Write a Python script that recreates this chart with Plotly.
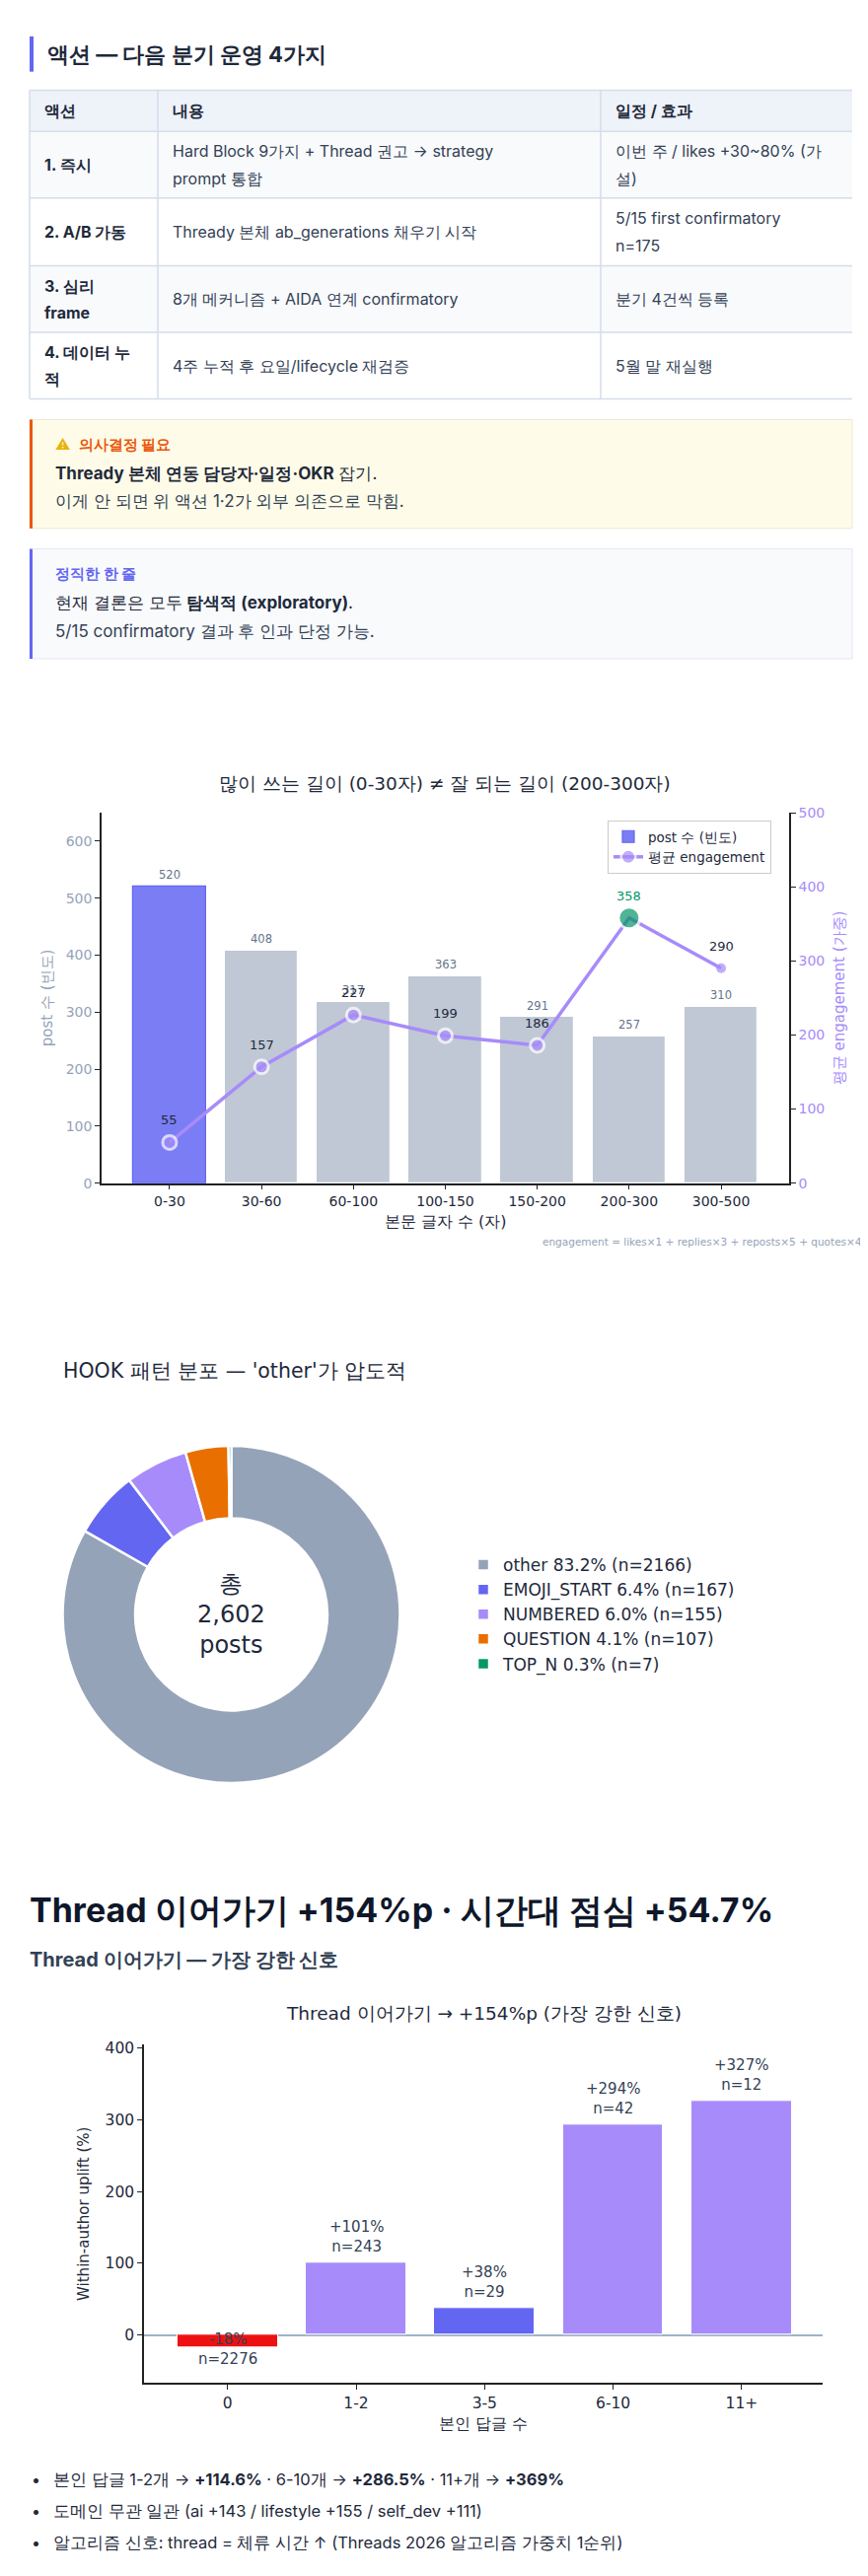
import plotly.graph_objects as go

W, H = 880, 2612
PAGE_FONT = "Inter"
CHART_FONT = "DejaVu Sans"

# ---------------- data ----------------
table_header = ["액션", "내용", "일정 / 효과"]
table_action = ["1. 즉시", "2. A/B 가동", "3. 심리<br>frame", "4. 데이터 누<br>적"]
table_content = [
    "Hard Block 9가지 + Thread 권고 → strategy<br>prompt 통합",
    "Thready 본체 ab_generations 채우기 시작",
    "8개 메커니즘 + AIDA 연계 confirmatory",
    "4주 누적 후 요일/lifecycle 재검증",
]
table_schedule = [
    "이번 주 / likes +30~80% (가<br>설)",
    "5/15 first confirmatory<br>n=175",
    "분기 4건씩 등록",
    "5월 말 재실행",
]

len_bins = ["0-30", "30-60", "60-100", "100-150", "150-200", "200-300", "300-500"]
post_counts = [520, 408, 317, 363, 291, 257, 310]
avg_engagement = [55, 157, 227, 199, 186, 358, 290]

hook_labels = ["other", "EMOJI_START", "NUMBERED", "QUESTION", "TOP_N"]
hook_counts = [2166, 167, 155, 107, 7]

reply_bins = ["0", "1-2", "3-5", "6-10", "11+"]
uplift_pct = [-18, 101, 38, 294, 327]
uplift_n = [2276, 243, 29, 42, 12]

bullets = [
    "본인 답글 1-2개 → <b>+114.6%</b> · 6-10개 → <b>+286.5%</b> · 11+개 → <b>+369%</b>",
    "도메인 무관 일관 (ai +143 / lifestyle +155 / self_dev +111)",
    "알고리즘 신호: thread = 체류 시간 ↑ (Threads 2026 알고리즘 가중치 1순위)",
]

# ---------------- styles ----------------
INDIGO = "#6366f1"
VIOLET = "#a78bfa"
SLATE = "#94a3b8"
GREEN = "#059669"
DARK = "#1e293b"
hook_colors = ["#94a3b8", "#6366f1", "#a78bfa", "#e86f00", "#059669"]
uplift_colors = ["#ee1111", VIOLET, INDIGO, VIOLET, VIOLET]


def X(px):
    return px / W


def Y(py):
    return 1 - py / H


ann = []
shapes = []


def text(x, y, s, size, color, anchor="left", family=PAGE_FONT):
    ann.append(dict(x=X(x), y=Y(y), xref="paper", yref="paper", text=s,
                    showarrow=False, xanchor=anchor, yanchor="middle", align=anchor,
                    font=dict(size=size, color=color, family=family)))


def rect(x0, y0, x1, y1, fill, line=None, lw=0):
    shapes.append(dict(type="rect", xref="paper", yref="paper",
                       x0=X(x0), x1=X(x1), y0=Y(y0), y1=Y(y1),
                       fillcolor=fill, line=dict(color=line or fill, width=lw),
                       layer="below"))


def hline(x0, x1, y, color, w):
    shapes.append(dict(type="line", xref="paper", yref="paper",
                       x0=X(x0), x1=X(x1), y0=Y(y), y1=Y(y),
                       line=dict(color=color, width=w), layer="below"))


def vline(x, y0, y1, color, w):
    shapes.append(dict(type="line", xref="paper", yref="paper",
                       x0=X(x), x1=X(x), y0=Y(y0), y1=Y(y1),
                       line=dict(color=color, width=w), layer="below"))


# ---------------- section title ----------------
rect(22, 21, 26, 57, INDIGO)
text(38, 39, "<b>액션 — 다음 분기 운영 4가지</b>", 22, DARK)

# ---------------- table ----------------
col_x = [22, 152, 601, 856]
row_y = [76, 118, 186, 255, 323, 391]
row_fill = ["#eef2f9", "#f8fafc", "#ffffff", "#f8fafc", "#ffffff"]
for i in range(len(row_y) - 1):
    rect(col_x[0], row_y[i], col_x[-1], row_y[i + 1], row_fill[i])
for yy in row_y:
    hline(col_x[0], col_x[-1], yy, "#d5ddea", 1.5)
for xx in col_x[:-1]:
    vline(xx, row_y[0], row_y[-1], "#d5ddea", 1.5)


def cell(col, row, s, bold, color):
    lines = s.split("<br>")
    cy = (row_y[row] + row_y[row + 1]) / 2
    n = len(lines)
    for k, ln in enumerate(lines):
        yy = cy + 27.5 * (k - (n - 1) / 2)
        text(col_x[col] + 13, yy, f"<b>{ln}</b>" if bold else ln, 16, color)


for j, h in enumerate(table_header):
    cell(j, 0, h, True, DARK)
for i in range(len(table_action)):
    cell(0, i + 1, table_action[i], True, DARK)
    cell(1, i + 1, table_content[i], False, "#334155")
    cell(2, i + 1, table_schedule[i], False, "#334155")

# ---------------- callouts ----------------
rect(22, 412, 856, 523, "#fefce8", "#ece9d6", 1)
rect(22, 412, 25, 523, "#ea580c")
text(46, 437, "<span style='color:#eab308'>⚠</span>  <b>의사결정 필요</b>", 15, "#ea580c")
text(46, 467, "<b>Thready 본체 연동 담당자·일정·OKR</b> 잡기.", 17, DARK)
text(46, 495, "이게 안 되면 위 액션 1·2가 외부 의존으로 막힘.", 17, "#334155")

rect(22, 544, 856, 656, "#f8fafc", "#e2e8f0", 1)
rect(22, 544, 25, 656, INDIGO)
text(46, 569, "<b>정직한 한 줄</b>", 15, INDIGO)
text(46, 599, "현재 결론은 모두 <b>탐색적 (exploratory)</b>.", 17, DARK)
text(46, 628, "5/15 confirmatory 결과 후 인과 단정 가능.", 17, "#334155")

# ---------------- chart 1 ----------------
top_bar = post_counts.index(max(post_counts))
top_eng = avg_engagement.index(max(avg_engagement))
bar_colors = ["rgba(99,102,241,0.85)" if i == top_bar else "rgba(148,163,184,0.6)"
              for i in range(len(len_bins))]
bar_edges = [INDIGO if i == top_bar else "white" for i in range(len(len_bins))]
fig = go.Figure()
fig.add_trace(go.Bar(x=len_bins, y=post_counts, width=0.8, name="post 수 (빈도)",
                     marker=dict(color=bar_colors, line=dict(color=bar_edges, width=1.2)),
                     xaxis="x", yaxis="y", legend="legend", hoverinfo="skip"))
m_size = [22 if i == top_eng else (10 if i == len(len_bins) - 1 else 14) for i in range(len(len_bins))]
m_color = [GREEN if i == top_eng else VIOLET for i in range(len(len_bins))]
m_lw = [3 if i != len(len_bins) - 1 else 0 for i in range(len(len_bins))]
fig.add_trace(go.Scatter(x=len_bins, y=avg_engagement, mode="lines+markers",
                         name="평균 engagement",
                         line=dict(color=VIOLET, width=3.5),
                         marker=dict(size=m_size, color=m_color, line=dict(color="white", width=m_lw)),
                         xaxis="x", yaxis="y2", legend="legend", hoverinfo="skip"))
for i, v in enumerate(post_counts):
    ann.append(dict(x=len_bins[i], y=v, xref="x", yref="y", text=str(v), showarrow=False,
                    yanchor="bottom", yshift=3, font=dict(size=11.5, color="#64748b", family=CHART_FONT)))
for i, v in enumerate(avg_engagement):
    ann.append(dict(x=len_bins[i], y=v, xref="x", yref="y2", text=str(v), showarrow=False,
                    yanchor="bottom", yshift=13,
                    font=dict(size=13, color=GREEN if i == top_eng else DARK, family=CHART_FONT)))
text(443, 783, "많이 쓰는 길이 (0-30자) ≠ 잘 되는 길이 (200-300자)", 18.5, DARK, "center", CHART_FONT)
text(868, 1251, "engagement = likes×1 + replies×3 + reposts×5 + quotes×4", 10.5, SLATE, "right", CHART_FONT)

# ---------------- chart 2 (donut) ----------------
total = sum(hook_counts)
hook_legend = [f"{l} {c / total * 100:.1f}% (n={c})" for l, c in zip(hook_labels, hook_counts)]
fig.add_trace(go.Pie(labels=hook_legend, values=hook_counts, hole=0.57, sort=False,
                     direction="clockwise", rotation=0, textinfo="none",
                     marker=dict(colors=hook_colors, line=dict(color="white", width=2.5)),
                     domain=dict(x=[X(54), X(399)], y=[Y(1803), Y(1459)]),
                     legend="legend2", hoverinfo="skip"))
text(54, 1382, "HOOK 패턴 분포 — 'other'가 압도적", 20.5, DARK, "left", CHART_FONT)
text(227, 1631, f"총<br>{total:,}<br>posts", 24, DARK, "center", CHART_FONT)

# ---------------- heading 2 ----------------
text(20, 1932, "<b>Thread 이어가기 +154%p · 시간대 점심 +54.7%</b>", 34, "#0f172a")
text(20, 1983, "<b>Thread 이어가기 — 가장 강한 신호</b>", 20, "#334155")

# ---------------- chart 3 ----------------
fig.add_trace(go.Bar(x=reply_bins, y=uplift_pct, width=0.78, showlegend=False,
                     marker=dict(color=uplift_colors, line=dict(color="white", width=1)),
                     xaxis="x3", yaxis="y3", hoverinfo="skip"))
for i, v in enumerate(uplift_pct):
    lab = f"{v:+d}%<br>n={uplift_n[i]}"
    if v >= 0:
        ann.append(dict(x=reply_bins[i], y=v, xref="x3", yref="y3", text=lab, showarrow=False,
                        yanchor="bottom", yshift=5, font=dict(size=15, color="#334155", family=CHART_FONT)))
    else:
        ann.append(dict(x=reply_bins[i], y=0, xref="x3", yref="y3", text=lab, showarrow=False,
                        yanchor="top", yshift=7, font=dict(size=15, color="#334155", family=CHART_FONT)))
text(482, 2038, "Thread 이어가기 → +154%p (가장 강한 신호)", 18.5, DARK, "center", CHART_FONT)

# ---------------- bullets ----------------
for k, b in enumerate(bullets):
    yy = [2513, 2546, 2578][k]
    text(22, yy, "•", 16, DARK)
    text(44, yy, b, 16.5, DARK)

axis_common = dict(showline=True, linecolor="#222222", linewidth=1.5, ticks="outside",
                   ticklen=5, tickcolor="#222222", showgrid=False, zeroline=False)

fig.update_layout(
    width=W, height=H, margin=dict(l=0, r=0, t=0, b=0),
    paper_bgcolor="white", plot_bgcolor="rgba(0,0,0,0)",
    font=dict(family=CHART_FONT, color=DARK, size=16),
    bargap=0,
    xaxis=dict(domain=[X(95), X(792)], anchor="y", type="category", range=[-0.74, 6.74],
               tickfont=dict(size=14, color=DARK, family=CHART_FONT),
               title=dict(text="본문 글자 수 (자)", font=dict(size=16, color=DARK, family=CHART_FONT), standoff=8),
               **axis_common),
    yaxis=dict(domain=[Y(1191), Y(813)], anchor="x", range=[0, 650], tickvals=[0, 100, 200, 300, 400, 500, 600],
               tickfont=dict(size=14, color=SLATE, family=CHART_FONT),
               title=dict(text="post 수 (빈도)", font=dict(size=15, color=SLATE, family=CHART_FONT), standoff=9),
               **axis_common),
    yaxis2=dict(overlaying="y", side="right", anchor="x", range=[0, 500], tickvals=[0, 100, 200, 300, 400, 500],
                tickfont=dict(size=14, color=VIOLET, family=CHART_FONT),
                title=dict(text="평균 engagement (가중)", font=dict(size=15, color=VIOLET, family=CHART_FONT), standoff=10),
                **axis_common),
    xaxis3=dict(domain=[X(138), X(826)], anchor="y3", type="category", range=[-0.65, 4.63],
                tickfont=dict(size=15.5, color=DARK, family=CHART_FONT),
                title=dict(text="본인 답글 수", font=dict(size=15.5, color=DARK, family=CHART_FONT), standoff=8),
                **axis_common),
    yaxis3=dict(domain=[Y(2415), Y(2070)], anchor="x3", range=[-67, 405], tickvals=[0, 100, 200, 300, 400],
                tickfont=dict(size=15.5, color=DARK, family=CHART_FONT),
                title=dict(text="Within-author uplift (%)", font=dict(size=15, color=DARK, family=CHART_FONT), standoff=12),
                **{**axis_common, "zeroline": True, "zerolinecolor": "#9fb1c7", "zerolinewidth": 2}),
    legend=dict(x=X(608), y=Y(821), xanchor="left", yanchor="top", bgcolor="rgba(255,255,255,0.85)",
                bordercolor="#cccccc", borderwidth=1, font=dict(size=13.5, color=DARK, family=CHART_FONT)),
    legend2=dict(x=X(462), y=Y(1631), xanchor="left", yanchor="middle", bgcolor="rgba(0,0,0,0)",
                 font=dict(size=17, color=DARK, family=CHART_FONT)),
    annotations=ann, shapes=shapes,
)

fig.write_html("out.html")
